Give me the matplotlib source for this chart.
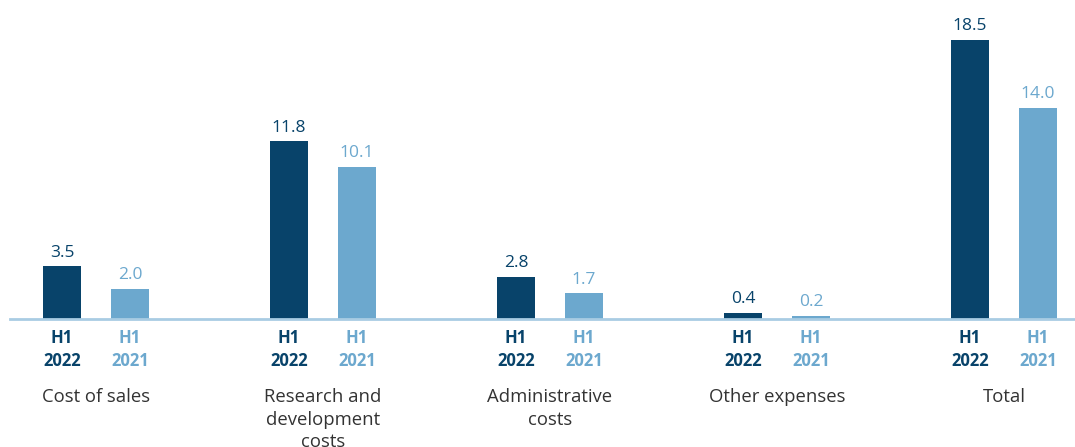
import matplotlib
matplotlib.use("Agg")
import matplotlib.pyplot as plt
import numpy as np

categories = ["Cost of sales", "Research and\ndevelopment\ncosts", "Administrative\ncosts",
              "Other expenses", "Total"]
h1_2022 = [3.5, 11.8, 2.8, 0.4, 18.5]
h1_2021 = [2.0, 10.1, 1.7, 0.2, 14.0]
series_labels = ["H1\n2022", "H1\n2021"]

DARK = "#08436a"
LIGHT = "#6ca8ce"
BASE = "#a9cce3"
TEXT = "#333333"

plt.rcParams["font.family"] = ["Open Sans", "DejaVu Sans"]

W, H = 1075, 447
fig = plt.figure(figsize=(W / 100, H / 100), dpi=100)
ax = fig.add_axes([10 / W, (H - 319) / H, 1065 / W, (319 - 20) / H])

x = np.arange(len(categories))
off = 34 / 227
bw = 38 / 227
ax.bar(x - off, h1_2022, width=bw, color=DARK, zorder=2)
ax.bar(x + off, h1_2021, width=bw, color=LIGHT, zorder=2)

ax.set_xlim(-86 / 227, (1065 - 86) / 227)
ax.set_ylim(0, 299 / 15.08)

for s in ["top", "right", "left"]:
    ax.spines[s].set_visible(False)
ax.spines["bottom"].set_color(BASE)
ax.spines["bottom"].set_linewidth(2)
ax.set_xticks([])
ax.set_yticks([])

for xs, vals, col in [(x - off, h1_2022, DARK), (x + off, h1_2021, LIGHT)]:
    for xi, v in zip(xs, vals):
        ax.annotate(f"{v:.1f}", (xi, v), xytext=(0, 4), textcoords="offset points",
                    ha="center", va="bottom", fontsize=12.5, color=col)

for i in x:
    for dx, lab, col in [(-off, series_labels[0], DARK), (off, series_labels[1], LIGHT)]:
        ax.annotate(lab, (i + dx, 0), xycoords=("data", "axes fraction"),
                    xytext=(0, -7), textcoords="offset points", ha="center", va="top",
                    fontsize=12, fontweight="bold", color=col, linespacing=1.4)
    ax.annotate(categories[i], (i, 0), xycoords=("data", "axes fraction"),
                xytext=(0, -50), textcoords="offset points", ha="center", va="top",
                fontsize=13.3, color=TEXT, linespacing=1.3)

fig.savefig("out.png", dpi=100)
